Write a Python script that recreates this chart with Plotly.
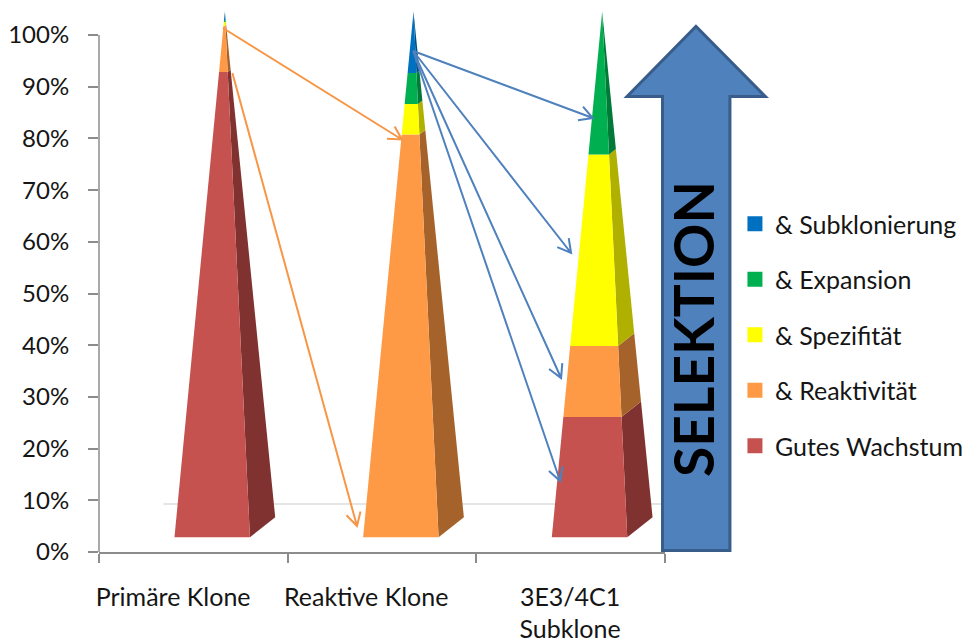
import math
import plotly.graph_objects as go

# Share of each selection stage within every clone group, in percent of the stack
categories = ["Primäre Klone", "Reaktive Klone", "3E3/4C1<br>Subklone"]
stage_names = ["Gutes Wachstum", "& Reaktivität", "& Spezifität", "& Expansion", "& Subklonierung"]
wachstum = [88.5, 0.0, 22.9]
reaktivitaet = [8.8, 76.6, 13.5]
spezifitaet = [0.7, 5.8, 36.4]
expansion = [0.4, 5.9, 27.2]
subklonierung = [1.6, 11.7, 0.0]
y_ticks = [0, 10, 20, 30, 40, 50, 60, 70, 80, 90, 100]

front_colors = ["#c5524f", "#fe9a45", "#ffff00", "#00b050", "#0070c0"]
side_colors = ["#803231", "#a5632b", "#b0b000", "#007a38", "#004e86"]
AXIS = "#8c8c8c"
TEXT = "#151515"
FONT = "Lato"
LABEL_SIZE = 25

# Plot frame in page pixels; the frame reaches above 100% to hold the pyramid tips
LEFT, RIGHT, TOP, BOTTOM = 98.5, 665.0, 5.0, 552.0
PX_PER_PERCENT = 5.17
Y_MAX = (BOTTOM - TOP) / PX_PER_PERCENT


def px(x):
    return (x - LEFT) / (RIGHT - LEFT)


def py(y):
    return (BOTTOM - y) / (BOTTOM - TOP)


# Oblique projection of a square pyramid onto the axis coordinates
BASE_Y = 2.84       # front base edge above the axis
DEPTH_Y = 3.87      # rise of the back edge
HEIGHT = 101.7      # projected height of the front edge
TIP_Y = BASE_Y + HEIGHT
FRONT_L, FRONT_R, BACK_R = -0.10, 0.30, 0.434
TIP_X = 0.167


def corner(cx, x0, y0, t):
    return cx + x0 + (TIP_X - x0) * t, y0 + (TIP_Y - y0) * t


fig = go.Figure()

stages = [wachstum, reaktivitaet, spezifitaet, expansion, subklonierung]
for cat_idx in range(len(categories)):
    cum = 0.0
    for stage_idx, values in enumerate(stages):
        v = values[cat_idx]
        if v <= 0:
            continue
        t0, t1 = cum / 100, min((cum + v) / 100, 1.0)
        cum += v
        fl0, fl1 = corner(cat_idx, FRONT_L, BASE_Y, t0), corner(cat_idx, FRONT_L, BASE_Y, t1)
        fr0, fr1 = corner(cat_idx, FRONT_R, BASE_Y, t0), corner(cat_idx, FRONT_R, BASE_Y, t1)
        br0, br1 = (corner(cat_idx, BACK_R, BASE_Y + DEPTH_Y, t0),
                    corner(cat_idx, BACK_R, BASE_Y + DEPTH_Y, t1))
        for pts, color in (((fr0, br0, br1, fr1), side_colors[stage_idx]),
                           ((fl0, fr0, fr1, fl1), front_colors[stage_idx])):
            fig.add_trace(go.Scatter(
                x=[p[0] for p in pts] + [pts[0][0]],
                y=[p[1] for p in pts] + [pts[0][1]],
                mode="lines", fill="toself", fillcolor=color,
                line=dict(width=0, color=color),
                showlegend=False, hoverinfo="skip",
            ))

# Legend entries, top to bottom
for idx in reversed(range(len(stage_names))):
    fig.add_trace(go.Scatter(
        x=[None], y=[None], mode="markers", name=stage_names[idx],
        legendgroup=stage_names[idx],
        marker=dict(symbol="square", size=15, color=front_colors[idx]),
    ))


def flow_arrow(start, end, color):
    angle = math.atan2(end[1] - start[1], end[0] - start[0])
    arm = 15
    spread = math.radians(29)
    a = (end[0] - arm * math.cos(angle - spread), end[1] - arm * math.sin(angle - spread))
    b = (end[0] - arm * math.cos(angle + spread), end[1] - arm * math.sin(angle + spread))
    pts = [start, end, a, end, b]
    cmds = ["M", "L", "M", "L", "L"]
    path = " ".join(f"{c} {px(p[0]):.5f} {py(p[1]):.5f}" for c, p in zip(cmds, pts))
    return dict(type="path", xref="paper", yref="paper", path=path, layer="above",
                line=dict(color=color, width=2))


ORANGE_LINE, BLUE_LINE = "#f79646", "#4f81bd"
shapes = [
    # Value axis spine, ending at the 100% tick
    dict(type="line", xref="paper", yref="y", layer="below",
         x0=0, x1=0, y0=0, y1=100, line=dict(color=AXIS, width=1.5)),
    # Single visible back-wall gridline
    dict(type="line", xref="paper", yref="paper", layer="below",
         x0=px(163), x1=px(661), y0=py(504), y1=py(504),
         line=dict(color="#dcdcdc", width=1.5)),
    flow_arrow((222.5, 28), (401.7, 139.5), ORANGE_LINE),
    flow_arrow((232, 73), (356.7, 526), ORANGE_LINE),
    flow_arrow((413, 51), (592.7, 118), BLUE_LINE),
    flow_arrow((413, 51), (571, 253), BLUE_LINE),
    flow_arrow((413, 51), (561, 378), BLUE_LINE),
    flow_arrow((413, 51), (560, 481), BLUE_LINE),
]

# Large upward arrow behind the SELEKTION label
outline = [(662.5, 550.5), (662.5, 96.5), (627, 96.5), (696, 26.5),
           (765.5, 96.5), (730, 96.5), (730, 550.5)]
arrow_path = "M " + " L ".join(f"{px(x):.5f} {py(y):.5f}" for x, y in outline) + " Z"
shapes.append(dict(type="path", xref="paper", yref="paper", path=arrow_path, layer="above",
                   fillcolor="#4f81bd", line=dict(color="#385d8a", width=3)))

fig.update_layout(
    width=970, height=643,
    margin=dict(l=LEFT, r=970 - RIGHT, t=TOP, b=643 - BOTTOM, autoexpand=False),
    paper_bgcolor="white", plot_bgcolor="white",
    font=dict(family=FONT, size=LABEL_SIZE, color=TEXT),
    shapes=shapes,
    annotations=[dict(
        text="<b>SELEKTION</b>", xref="paper", yref="paper",
        x=px(692.5), y=py(328.5), xanchor="center", yanchor="middle",
        textangle=-90, showarrow=False,
        font=dict(family=FONT, size=55, color="#000000"),
    )],
    showlegend=True,
    legend=dict(
        x=px(735), y=py(201), xanchor="left", yanchor="top",
        traceorder="grouped", tracegroupgap=20,
        font=dict(family=FONT, size=LABEL_SIZE, color=TEXT),
        bgcolor="rgba(0,0,0,0)", itemclick=False, itemdoubleclick=False,
    ),
    xaxis=dict(
        range=[-0.5, 2.5], showgrid=False, zeroline=False,
        showline=True, linecolor=AXIS, linewidth=1.5,
        tickmode="array", tickvals=[-0.107, 0.916, 1.997], ticktext=categories,
        ticks="", ticklabelstandoff=22,
        tickfont=dict(family=FONT, size=LABEL_SIZE, color=TEXT), tickangle=0,
        minor=dict(tickmode="array", tickvals=[-0.5, 0.5, 1.5, 2.5], ticks="outside",
                   ticklen=9, tickwidth=1.5, tickcolor=AXIS, showgrid=False),
    ),
    yaxis=dict(
        range=[0, Y_MAX], showgrid=False, zeroline=False, showline=False,
        tickmode="array", tickvals=y_ticks, ticktext=[f"{v}%" for v in y_ticks],
        ticks="outside", ticklen=10, tickwidth=1.5, tickcolor=AXIS,
        ticklabelstandoff=14,
        tickfont=dict(family=FONT, size=24, color=TEXT),
    ),
)

fig.write_html("out.html", config=dict(displayModeBar=False))
